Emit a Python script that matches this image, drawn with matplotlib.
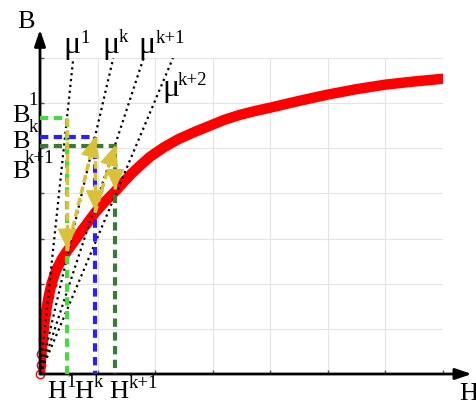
import matplotlib.pyplot as plt

# --- Font setup ---
plt.rcParams['font.family'] = ['Liberation Serif', 'DejaVu Serif']

# --- Data ---
# B-H curve (red)
H_curve = [0, 0.01, 0.025, 0.045, 0.07, 0.1, 0.15, 0.2, 0.28, 0.38, 0.469, 0.6,
           0.75, 0.955, 1.13, 1.302, 1.45, 1.6, 1.75, 1.91, 2.15, 2.4, 2.7, 2.99,
           3.2, 3.47, 3.75, 4.0, 4.5, 5.0, 5.5, 6.0, 6.5, 7.0]
B_curve = [0, 0.2, 0.45, 0.75, 1.05, 1.35, 1.72, 2.0, 2.3, 2.55, 2.72, 2.95,
           3.22, 3.57, 3.82, 4.04, 4.25, 4.45, 4.63, 4.81, 5.02, 5.2, 5.37, 5.52,
           5.63, 5.74, 5.83, 5.9, 6.05, 6.19, 6.31, 6.41, 6.48, 6.54]

# iteration points: H^1, H^k, H^(k+1)
H_iter = [0.469, 0.955, 1.302]
B_iter = [5.68, 5.25, 5.06]          # B^1, B^k, B^(k+1)
B_on_curve = [2.72, 3.57, 4.04]      # B(H) on the curve at H_iter

# slopes of the mu lines through the origin
mu_slopes = [12.1, 5.5, 3.89, 3.03]
mu_sups = ['1', 'k', 'k+1', 'k+2']
iter_sups = ['1', 'k', 'k+1']

# --- Styles ---
iter_colors = ['#45db3c', '#2f1cff', '#3b7a35']
yellow = '#d9c23a'
ymax = 7

fig = plt.figure(figsize=(4.77, 4.05), dpi=100)
ax = fig.add_axes([40 / 477, 31 / 405, 403 / 477, 316 / 405])
ax.set_xlim(0, 7)
ax.set_ylim(0, 7)
ax.set_xticks(range(8))
ax.set_yticks(range(8))
ax.set_xticklabels([])
ax.set_yticklabels([])
ax.grid(True, color='#e4e4e4', lw=0.8)
ax.tick_params(direction='in', length=3, width=1, color='#555555')
for s in ax.spines.values():
    s.set_visible(False)

# red B-H curve
ax.plot(H_curve, B_curve, color='red', lw=7.5, solid_capstyle='round',
        solid_joinstyle='round', zorder=2)
ax.plot(H_curve, B_curve, ls='none', marker='o', mfc='none', mec='red',
        ms=6, mew=1.0, markevery=slice(0, 8), zorder=2, clip_on=False)

# mu lines
for s in mu_slopes:
    ax.plot([0, ymax / s], [0, ymax], color='black', ls=':', lw=1.6, zorder=3)

# coloured dashed guides
for h, b, c in zip(H_iter, B_iter, iter_colors):
    ax.plot([0, h, h], [b, b, 0], color=c, lw=3, dashes=(2, 1.3), zorder=4,
            clip_on=False)

# yellow iteration arrows
def yarrow(x0, y0, x1, y1):
    ax.plot([x0, x1], [y0, y1], color=yellow, lw=2.5, dashes=(2.2, 1.2), zorder=5)
    dx, dy = x1 - x0, y1 - y0
    ax.annotate('', xy=(x1, y1), xytext=(x1 - dx * 0.05, y1 - dy * 0.05),
                arrowprops=dict(arrowstyle='-|>,head_length=0.65,head_width=0.3',
                                color=yellow, lw=1, mutation_scale=20,
                                shrinkA=0, shrinkB=0), zorder=6)

for i in range(3):
    yarrow(H_iter[i], B_iter[i], H_iter[i], B_on_curve[i] + 0.05)
    if i < 2:
        yarrow(H_iter[i], B_on_curve[i], H_iter[i + 1], B_iter[i + 1])

# axis arrows
arrow_kw = dict(arrowstyle='-|>,head_length=0.65,head_width=0.22', color='black',
                lw=2, mutation_scale=15, shrinkA=0, shrinkB=0)
ax.annotate('', xy=(0, 7.63), xytext=(0, 0), arrowprops=arrow_kw,
            annotation_clip=False)
ax.annotate('', xy=(7.5, 0), xytext=(0, 0), arrowprops=arrow_kw,
            annotation_clip=False)

big = 19
mu_size = 23
small = 13.5
tkw = dict(ha='left', va='baseline', clip_on=False)

ax.text(-0.40, 7.67, 'B', fontsize=big, **tkw)
ax.text(7.29, -0.576, 'H', fontsize=big, **tkw)

# mu labels
mu_pos = [(0.40, 7.10, 0.70, 7.34), (1.076, 7.10, 1.36, 7.36),
          (1.701, 7.10, 2.0, 7.34), (2.118, 6.16, 2.39, 6.41)]
for (mx, my, sx, sy), sup in zip(mu_pos, mu_sups):
    ax.text(mx, my, '\u03bc', fontsize=mu_size, **tkw)
    ax.text(sx, sy, sup, fontsize=small, **tkw)

# B labels
b_pos = [(-0.49, 5.59, -0.20, 5.96), (-0.49, 5.01, -0.20, 5.37),
         (-0.49, 4.35, -0.27, 4.68)]
for (bx, by, sx, sy), sup in zip(b_pos, iter_sups):
    ax.text(bx, by, 'B', fontsize=big, **tkw)
    ax.text(sx, sy, sup, fontsize=small, **tkw)

# H labels
h_pos = [(0.12, -0.54, 0.46, -0.29), (0.60, -0.54, 0.94, -0.29),
         (1.21, -0.54, 1.54, -0.31)]
for (hx, hy, sx, sy), sup in zip(h_pos, iter_sups):
    ax.text(hx, hy, 'H', fontsize=big, **tkw)
    ax.text(sx, sy, sup, fontsize=small, **tkw)

fig.savefig('out.png', dpi=100)
